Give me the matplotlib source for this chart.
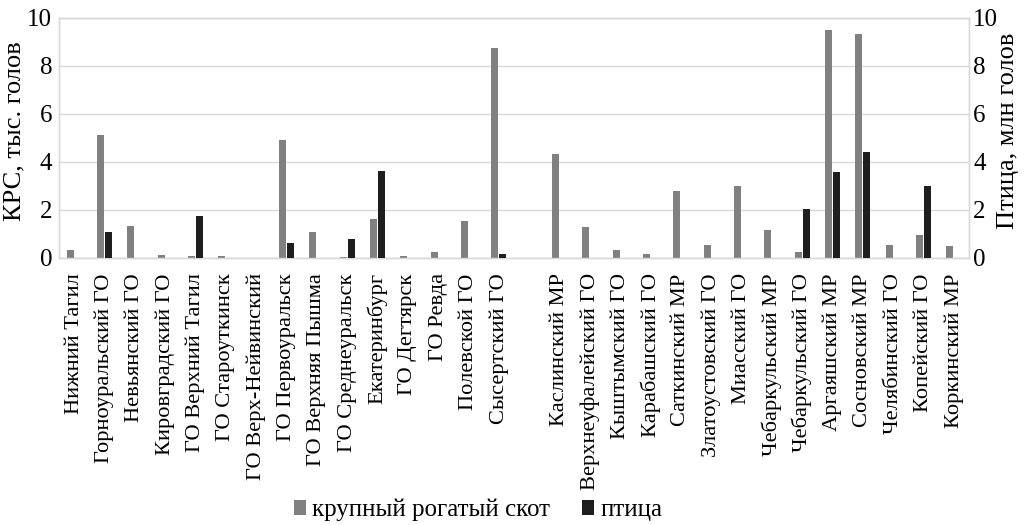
import matplotlib
matplotlib.use("Agg")
import matplotlib.pyplot as plt
import numpy as np

plt.rcParams['font.family'] = ['Liberation Serif', 'DejaVu Serif']

categories = [
    "Нижний Тагил", "Горноуральский ГО", "Невьянский ГО", "Кировградский ГО",
    "ГО Верхний Тагил", "ГО Староуткинск", "ГО Верх-Нейвинский", "ГО Первоуральск",
    "ГО Верхняя Пышма", "ГО Среднеуральск", "Екатеринбург", "ГО Дегтярск",
    "ГО Ревда", "Полевской ГО", "Сысертский ГО", "",
    "Каслинский МР", "Верхнеуфалейский ГО", "Кыштымский ГО", "Карабашский ГО",
    "Саткинский МР", "Златоустовский ГО", "Миасский ГО", "Чебаркульский МР",
    "Чебаркульский ГО", "Аргаяшский МР", "Сосновский МР", "Челябинский ГО",
    "Копейский ГО", "Коркинский МР",
]

krs = [0.35, 5.14, 1.32, 0.14, 0.08, 0.07, 0.0, 4.93, 1.07, 0.04, 1.61, 0.07,
       0.25, 1.56, 8.75, 0.0,
       4.32, 1.29, 0.33, 0.15, 2.78, 0.56, 2.99, 1.15, 0.25, 9.51, 9.33, 0.53,
       0.95, 0.50]

ptica = [0.0, 1.07, 0.0, 0.0, 1.75, 0.0, 0.0, 0.61, 0.0, 0.81, 3.63, 0.0,
         0.0, 0.0, 0.18, 0.0,
         0.0, 0.0, 0.0, 0.0, 0.0, 0.0, 0.0, 0.0, 2.06, 3.57, 4.42, 0.0,
         2.99, 0.0]

grey = "#808080"
black = "#1e1e1e"
gridc = "#d9d9d9"

fig = plt.figure(figsize=(10.24, 5.25), dpi=100)
ax = fig.add_axes([59/1024, 1 - 258/525, (969-59)/1024, (258-18)/525])
ax2 = ax.twinx()

x = np.arange(len(categories))
w = 0.23
ax.bar(x - 0.13, krs, width=w, color=grey, zorder=3, label="крупный рогатый скот")
ax2.bar(x + 0.13, ptica, width=w, color=black, zorder=3, label="птица")

for a in (ax, ax2):
    a.set_ylim(0, 10)
    a.set_yticks([0, 2, 4, 6, 8, 10])
    for s in a.spines.values():
        s.set_color(gridc)
        s.set_linewidth(1.0)
ax.set_xlim(-0.5, len(categories) - 0.5)
ax.yaxis.grid(True, color=gridc, linewidth=1.0, zorder=0)
ax.set_axisbelow(True)

ax.tick_params(axis='y', length=0, labelsize=18, pad=5)
ax2.tick_params(axis='y', length=0, labelsize=18, pad=3)
ax.tick_params(axis='x', length=0, pad=11)
ax.set_xticks(x)
ax.set_xticklabels(categories, rotation=90, fontsize=16.2, ha='center', va='top')

ax.set_ylabel("КРС, тыс. голов", fontsize=19)
ax2.set_ylabel("Птица, млн голов", fontsize=19)
ax.yaxis.set_label_coords(-0.0373, 0.53)
ax2.yaxis.set_label_coords(1.0307, 0.53)

h1, l1 = ax.get_legend_handles_labels()
h2, l2 = ax2.get_legend_handles_labels()
fig.legend(h1 + h2, l1 + l2, loc='center', bbox_to_anchor=(478/1024, 1 - 510/525),
           ncol=2, frameon=False, fontsize=18, handlelength=0.5, handleheight=0.5,
           handletextpad=0.25, columnspacing=1.25, borderpad=0, borderaxespad=0)

fig.savefig("out.png", dpi=100)
